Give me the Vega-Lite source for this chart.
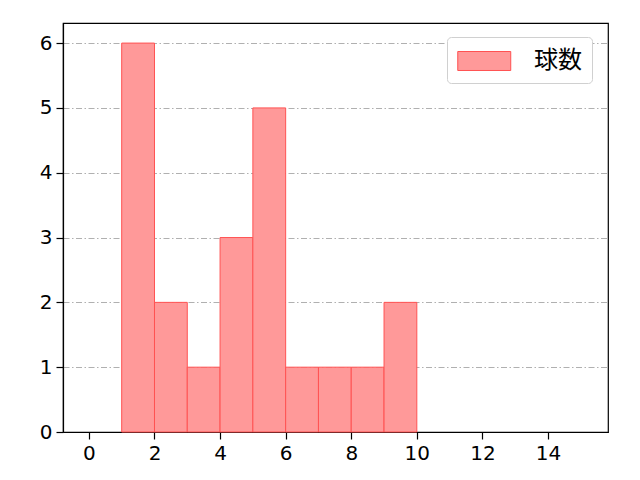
{
  "$schema": "https://vega.github.io/schema/vega-lite/v6.json",
  "autosize": {"type": "none"},
  "width": 545,
  "height": 409,
  "padding": {"left": 63, "top": 23, "right": 32, "bottom": 48},
  "background": "white",
  "data": {
    "values": [
      {"bin_start": 1, "bin_end": 2, "count": 6, "series": "球数"},
      {"bin_start": 2, "bin_end": 3, "count": 2, "series": "球数"},
      {"bin_start": 3, "bin_end": 4, "count": 1, "series": "球数"},
      {"bin_start": 4, "bin_end": 5, "count": 3, "series": "球数"},
      {"bin_start": 5, "bin_end": 6, "count": 5, "series": "球数"},
      {"bin_start": 6, "bin_end": 7, "count": 1, "series": "球数"},
      {"bin_start": 7, "bin_end": 8, "count": 1, "series": "球数"},
      {"bin_start": 8, "bin_end": 9, "count": 1, "series": "球数"},
      {"bin_start": 9, "bin_end": 10, "count": 2, "series": "球数"}
    ]
  },
  "mark": {"type": "rect", "stroke": "#ff5252", "strokeWidth": 1},
  "encoding": {
    "x": {
      "field": "bin_start",
      "type": "quantitative",
      "title": null,
      "scale": {"domain": [-0.79, 15.83], "nice": false, "zero": false},
      "axis": {"values": [0, 2, 4, 6, 8, 10, 12, 14], "grid": false}
    },
    "x2": {"field": "bin_end"},
    "y": {
      "field": "count",
      "type": "quantitative",
      "title": null,
      "scale": {"domain": [0, 6.31], "nice": false},
      "axis": {"values": [0, 1, 2, 3, 4, 5, 6], "grid": true}
    },
    "y2": {"datum": 0},
    "color": {
      "field": "series",
      "type": "nominal",
      "title": null,
      "scale": {"range": ["#ff9999"]},
      "legend": {
        "orient": "none",
        "legendX": 384,
        "legendY": 14,
        "symbolType": "M-1,-0.717H3V0.717H-1Z",
        "symbolSize": 702,
        "symbolStrokeColor": "#ff5252",
        "symbolStrokeWidth": 1,
        "symbolOpacity": 1,
        "labelFont": "Noto Sans CJK JP",
        "labelFontSize": 24,
        "labelColor": "black",
        "labelOffset": 49,
        "padding": 10,
        "strokeColor": "#d0d0d0",
        "fillColor": "white",
        "cornerRadius": 4
      }
    }
  },
  "config": {
    "view": {"stroke": "black", "strokeWidth": 1.2},
    "axis": {
      "domainColor": "black",
      "domainWidth": 1.2,
      "tickColor": "black",
      "tickWidth": 1.2,
      "tickSize": 7,
      "labelFont": "DejaVu Sans",
      "labelFontSize": 20,
      "labelColor": "black",
      "labelPadding": 4,
      "gridColor": "#b0b0b0",
      "gridWidth": 1.1,
      "gridDash": [6, 2.5, 1.5, 2.5],
      "labelFlush": false,
      "labelOverlap": false
    },
    "legend": {"symbolFillColor": "#ff9999"}
  }
}
